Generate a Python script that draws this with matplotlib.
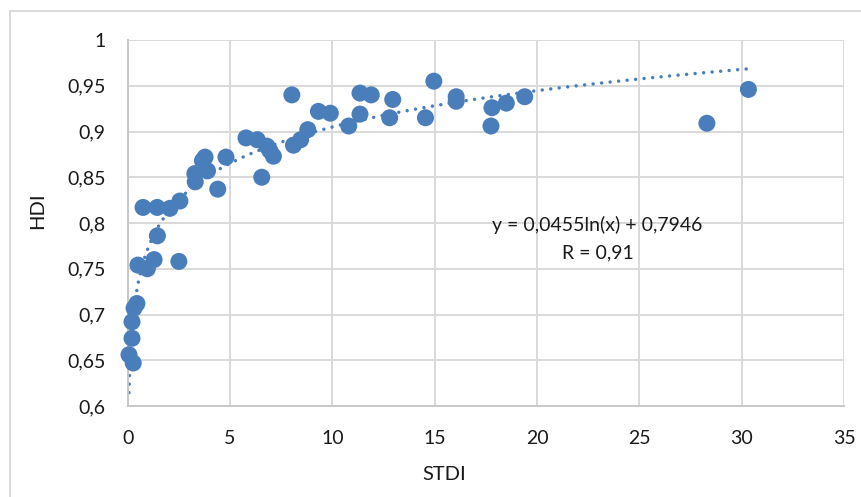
import matplotlib
matplotlib.use("Agg")
import matplotlib.pyplot as plt
import numpy as np
from matplotlib.patches import Rectangle

# ---- data ----
stdi = [0.063, 0.27, 0.21, 0.21, 0.31, 0.45, 0.50, 0.96, 1.29, 2.50,
        1.45, 0.75, 1.44, 2.06, 2.55, 3.28, 3.30, 3.65, 3.78, 3.90,
        4.40, 4.80, 6.55, 5.78, 6.33, 6.80, 6.95, 7.12, 8.02, 8.10,
        8.45, 8.80, 9.32, 9.90, 10.80, 11.35, 11.35, 11.90, 12.95, 12.80,
        14.55, 14.96, 16.05, 16.05, 17.80, 17.75, 18.50, 19.40, 28.30, 30.33]
hdi = [0.656, 0.647, 0.674, 0.692, 0.707, 0.712, 0.754, 0.750, 0.760, 0.758,
       0.786, 0.817, 0.817, 0.816, 0.824, 0.854, 0.845, 0.868, 0.872, 0.857,
       0.837, 0.872, 0.850, 0.893, 0.891, 0.884, 0.879, 0.873, 0.940, 0.885,
       0.891, 0.902, 0.922, 0.920, 0.906, 0.919, 0.942, 0.940, 0.935, 0.915,
       0.915, 0.955, 0.933, 0.938, 0.926, 0.906, 0.931, 0.938, 0.909, 0.946]

# logarithmic trendline as it is drawn in the picture
trend_a = 0.0573
trend_b = 0.773
equation_text = "y = 0,0455ln(x) + 0,7946"
r_text = "R = 0,91"

x_ticks = [0, 5, 10, 15, 20, 25, 30, 35]
x_tick_labels = ["0", "5", "10", "15", "20", "25", "30", "35"]
y_ticks = [0.6, 0.65, 0.7, 0.75, 0.8, 0.85, 0.9, 0.95, 1.0]
y_tick_labels = ["0,6", "0,65", "0,7", "0,75", "0,8", "0,85", "0,9", "0,95", "1"]
x_label = "STDI"
y_label = "HDI"

# ---- style ----
plt.rcParams['font.family'] = ['Lato', 'DejaVu Sans']
blue = '#4A7EBB'
grid_c = '#D9D9D9'
txt_c = '#1a1a1a'

W, H = 862, 497
fig = plt.figure(figsize=(W / 100, H / 100), dpi=100)
L, R, T, B = 127.7, 844, 40, 406
ax = fig.add_axes([L / W, 1 - B / H, (R - L) / W, (B - T) / H])

ax.set_xlim(0, 35)
ax.set_ylim(0.6, 1.0)
ax.set_xticks(x_ticks)
ax.set_xticklabels(x_tick_labels)
ax.set_yticks(y_ticks)
ax.set_yticklabels(y_tick_labels)
ax.tick_params(axis='both', length=0, labelsize=14, colors=txt_c)
ax.tick_params(axis='x', pad=17)
ax.tick_params(axis='y', pad=16)
ax.grid(True, color=grid_c, linewidth=1.4)
ax.set_axisbelow(True)
for s in ['top', 'right']:
    ax.spines[s].set_visible(False)
for s in ['left', 'bottom']:
    ax.spines[s].set_color('#C8C8C8')
    ax.spines[s].set_linewidth(1.4)

# trendline over data range
xt = np.linspace(min(stdi), max(stdi), 3000)
yt = trend_a * np.log(xt) + trend_b
ax.plot(xt, yt, color=blue, linewidth=2.5, linestyle=(0, (0.01, 2.45)),
        dash_capstyle='round', solid_capstyle='round', zorder=2)

ax.scatter(stdi, hdi, s=150, color=blue, edgecolors='none', zorder=3, clip_on=False)

# annotation
fig.text(597 / W, 1 - 225 / H, equation_text, ha='center', va='center',
         fontsize=14, color=txt_c)
fig.text(598 / W, 1 - 253 / H, r_text, ha='center', va='center',
         fontsize=14, color=txt_c)

fig.text(444.5 / W, 1 - 474 / H, x_label, ha='center', va='center', fontsize=14.5, color=txt_c)
fig.text(38 / W, 1 - 211 / H, y_label, ha='center', va='center', rotation=90, fontsize=14.5, color=txt_c)

# chart border (Excel chart area)
fig.add_artist(Rectangle((10.5 / W, -0.2), 2, 1.2 - 10.5 / H, transform=fig.transFigure,
                         fill=False, edgecolor=grid_c, linewidth=1.4))

fig.savefig("out.png", dpi=100)
